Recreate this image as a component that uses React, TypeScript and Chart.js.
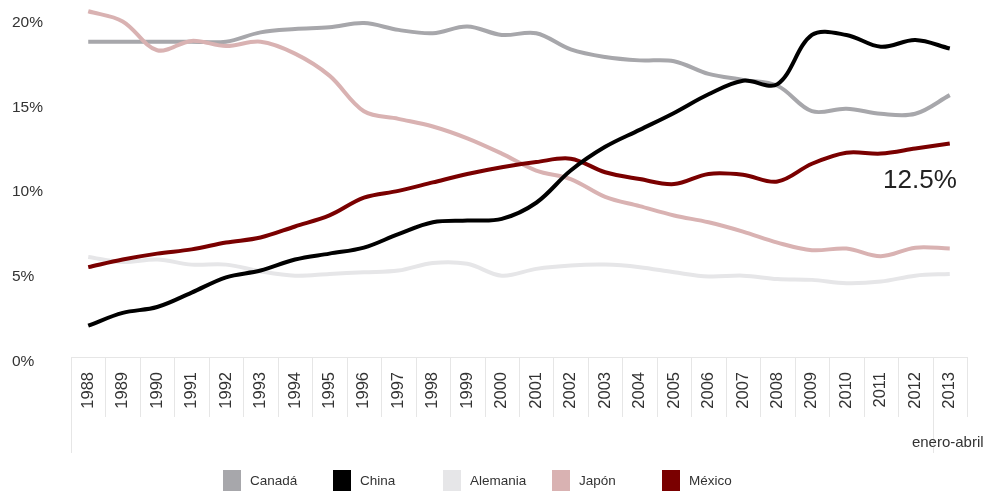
import React, { useEffect, useRef } from "react";
import { Chart, registerables } from "chart.js";

Chart.register(...registerables);

const years = [
  "1988", "1989", "1990", "1991", "1992", "1993", "1994", "1995", "1996",
  "1997", "1998", "1999", "2000", "2001", "2002", "2003", "2004", "2005",
  "2006", "2007", "2008", "2009", "2010", "2011", "2012", "2013",
];

const canada = [
  18.6, 18.6, 18.6, 18.6, 18.6, 19.15, 19.35, 19.45, 19.7, 19.3, 19.1, 19.5, 19.0,
  19.1, 18.15, 17.7, 17.5, 17.45, 16.7, 16.35, 16.0, 14.5, 14.65, 14.35, 14.35, 15.45,
];
const china = [
  1.85, 2.6, 2.95, 3.8, 4.7, 5.1, 5.75, 6.1, 6.45, 7.25, 7.95, 8.05, 8.15,
  9.1, 11.0, 12.4, 13.4, 14.4, 15.5, 16.3, 16.1, 19.0, 19.0, 18.3, 18.7, 18.2,
];
const alemania = [
  5.9, 5.6, 5.75, 5.45, 5.45, 5.05, 4.8, 4.9, 5.0, 5.1, 5.55, 5.5, 4.8,
  5.2, 5.4, 5.45, 5.3, 5.0, 4.75, 4.8, 4.6, 4.55, 4.35, 4.45, 4.8, 4.9,
];
const japon = [
  20.4, 19.8, 18.1, 18.65, 18.35, 18.6, 17.9, 16.6, 14.5, 14.05, 13.6, 12.9, 12.0,
  11.0, 10.5, 9.45, 8.9, 8.35, 7.95, 7.4, 6.75, 6.3, 6.4, 5.95, 6.45, 6.4,
];
const mexico = [
  5.3, 5.75, 6.1, 6.35, 6.75, 7.05, 7.7, 8.35, 9.4, 9.8, 10.3, 10.8, 11.2,
  11.5, 11.7, 10.9, 10.5, 10.2, 10.8, 10.75, 10.35, 11.4, 12.05, 12.0, 12.3, 12.6,
];

const seriesNames = ["Canadá", "China", "Alemania", "Japón", "México"];
const seriesColors = ["#a7a7ab", "#000000", "#e6e6e8", "#d9b2b2", "#7a0000"];
const seriesOrder = [3, 0, 4, 2, 1];
const yTicks = [0, 5, 10, 15, 20];
const periodLabel = "enero-abril";
const lastValueLabel = "12.5%";

const FONT = "'Liberation Sans', Arial, sans-serif";

const axisFrame = {
  id: "axisFrame",
  afterDraw(chart: any) {
    const { ctx, chartArea, scales } = chart;
    const x = scales.x;
    const y = scales.y;
    const n = years.length;
    const band = (x.right - x.left) / n;
    const top = Math.round(chartArea.bottom);
    ctx.save();
    ctx.strokeStyle = "#e6e6e6";
    ctx.lineWidth = 1;
    ctx.beginPath();
    ctx.moveTo(x.left, top + 0.5);
    ctx.lineTo(x.right, top + 0.5);
    for (let k = 0; k <= n; k++) {
      const px = Math.round(x.left + k * band) + 0.5;
      const long = k === 0 || k === n - 1;
      ctx.moveTo(px, top);
      ctx.lineTo(px, top + (long ? 96 : 60));
    }
    ctx.stroke();

    // y tick labels
    ctx.fillStyle = "#333";
    ctx.font = "15.5px " + FONT;
    ctx.textAlign = "left";
    ctx.textBaseline = "middle";
    yTicks.forEach((v) => {
      ctx.fillText(v + "%", 12, y.getPixelForValue(v) + 4.5);
    });

    ctx.font = "15px " + FONT;
    ctx.textAlign = "center";
    ctx.fillText(periodLabel, x.getPixelForValue(n - 1) - 2, top + 86);

    const idx = seriesNames.indexOf("México");
    const pt = chart.getDatasetMeta(idx).data[n - 1];
    ctx.font = "26px " + FONT;
    ctx.fillStyle = "#222";
    ctx.textAlign = "right";
    ctx.fillText(lastValueLabel, pt.x + 7, pt.y + 37);
    ctx.restore();
  },
};

export default function App() {
  const ref = useRef<HTMLCanvasElement | null>(null);

  useEffect(() => {
    if (!ref.current) return;
    const values = [canada, china, alemania, japon, mexico];
    const chart = new Chart(ref.current, {
      type: "line",
      data: {
        labels: years,
        datasets: values.map((d, i) => ({
          label: seriesNames[i],
          data: d,
          borderColor: seriesColors[i],
          backgroundColor: seriesColors[i],
          borderWidth: 4,
          pointRadius: 0,
          tension: 0.35,
          fill: false,
          clip: false as any,
          order: seriesOrder[i],
        })),
      },
      options: {
        responsive: false,
        animation: false,
        layout: { padding: { left: 12, right: 20, top: 18, bottom: 39 } },
        plugins: { legend: { display: false }, tooltip: { enabled: false } },
        scales: {
          x: {
            type: "category",
            offset: true,
            grid: { display: false, drawTicks: false },
            border: { display: false },
            ticks: {
              autoSkip: false,
              minRotation: 90,
              maxRotation: 90,
              padding: 15,
              color: "#333",
              font: { family: FONT, size: 16.5 },
            },
            afterFit: (s: any) => {
              s.height = 96;
            },
          },
          y: {
            min: yTicks[0],
            max: yTicks[yTicks.length - 1],
            grid: { display: false, drawTicks: false },
            border: { display: false },
            ticks: { display: false },
            afterFit: (s: any) => {
              s.width = 59;
            },
          },
        },
      },
      plugins: [axisFrame],
    });
    return () => chart.destroy();
  }, []);

  return (
    <div style={{ position: "fixed", left: 0, top: 0, width: 987, height: 492, background: "#fff" }}>
      <canvas ref={ref} width={987} height={492} style={{ width: 987, height: 492, display: "block" }} />
      {seriesNames.map((name, i) => {
        const left = Math.round(223 + i * 109.75);
        return (
          <div key={name}>
            <div
              style={{
                position: "absolute",
                left,
                top: 470,
                width: 18,
                height: 21,
                background: seriesColors[i],
              }}
            />
            <div
              style={{
                position: "absolute",
                left: left + 27,
                top: 471,
                height: 20,
                lineHeight: "20px",
                fontFamily: FONT,
                fontSize: 13.5,
                color: "#333",
                whiteSpace: "nowrap",
              }}
            >
              {name}
            </div>
          </div>
        );
      })}
    </div>
  );
}
